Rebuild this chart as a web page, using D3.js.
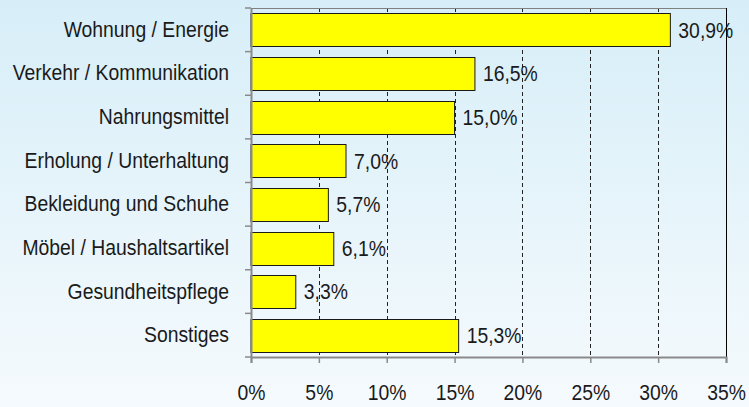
<!DOCTYPE html>
<html>
<head>
<meta charset="utf-8">
<script src="https://cdn.jsdelivr.net/npm/d3@7"></script>
<style>
  html, body { margin: 0; padding: 0; }
  body { width: 749px; height: 407px; overflow: hidden; }
  text { font-family: "Liberation Sans", Arial, sans-serif; fill: #1a1a1a; }
</style>
</head>
<body>
<div id="chart"></div>
<script>
// Data
const categories = [
  "Wohnung / Energie",
  "Verkehr / Kommunikation",
  "Nahrungsmittel",
  "Erholung / Unterhaltung",
  "Bekleidung und Schuhe",
  "Möbel / Haushaltsartikel",
  "Gesundheitspflege",
  "Sonstiges"
];
const shares = [30.9, 16.5, 15.0, 7.0, 5.7, 6.1, 3.3, 15.3];
const xTicks = [0, 5, 10, 15, 20, 25, 30, 35];

const data = categories.map((c, i) => ({ category: c, value: shares[i] }));

const width = 749, height = 407;
const margins = {top: 8, right: 23, bottom: 50, left: 251};
const fontSize = "22px";
const narrow = 0.88; // squeeze Liberation Sans to look like Arial Narrow

// move x/y into a transform so the text can be squeezed horizontally
function condense(sel) {
  sel.each(function() {
    const t = d3.select(this);
    const x = +t.attr("x") || 0, y = +t.attr("y") || 0;
    t.attr("transform", `translate(${x},${y}) scale(${narrow},1)`)
      .attr("x", 0)
      .attr("y", 0);
  });
}

const svg = d3.select("#chart")
  .append("svg")
  .attr("width", width)
  .attr("height", height);

// background gradient
const grad = svg.append("defs").append("linearGradient")
  .attr("id", "bg")
  .attr("x1", 0).attr("y1", 0).attr("x2", 0).attr("y2", 1);
grad.append("stop").attr("offset", "0%").attr("stop-color", "#d7eef8");
grad.append("stop").attr("offset", "100%").attr("stop-color", "#f5fafd");

svg.append("rect")
  .attr("width", width)
  .attr("height", height)
  .attr("fill", "url(#bg)");

const xScale = d3.scaleLinear()
  .domain([0, 35])
  .range([margins.left, width - margins.right]);

const yScale = d3.scaleBand()
  .domain(categories)
  .range([margins.top, height - margins.bottom])
  .paddingInner(0.25)
  .paddingOuter(0.125);

const yBand = d3.scaleBand()
  .domain(categories)
  .range([margins.top, height - margins.bottom]);

// dashed gridlines
svg.append("g")
  .selectAll("line")
  .data(xTicks.filter(d => d > 0 && d < 35))
  .join("line")
    .attr("x1", d => Math.round(xScale(d)) + 0.5)
    .attr("x2", d => Math.round(xScale(d)) + 0.5)
    .attr("y1", margins.top)
    .attr("y2", height - margins.bottom)
    .attr("stroke", "#222")
    .attr("stroke-width", 1)
    .attr("stroke-dasharray", "4,3");

// frame: top (gray) and right (black)
svg.append("line")
  .attr("x1", margins.left).attr("x2", xScale(35))
  .attr("y1", margins.top + 0.5).attr("y2", margins.top + 0.5)
  .attr("stroke", "#808080");
svg.append("line")
  .attr("x1", xScale(35) + 0.5).attr("x2", xScale(35) + 0.5)
  .attr("y1", margins.top).attr("y2", height - margins.bottom)
  .attr("stroke", "#000");

// bars
svg.append("g")
  .selectAll("rect")
  .data(data)
  .join("rect")
    .attr("x", xScale(0))
    .attr("y", d => Math.round(yScale(d.category)) + 0.5)
    .attr("width", d => xScale(d.value) - xScale(0))
    .attr("height", Math.round(yScale.bandwidth()))
    .attr("fill", "#ffff00")
    .attr("stroke", "#1a1a1a")
    .attr("stroke-width", 1);

// value labels
svg.append("g")
  .selectAll("text")
  .data(data)
  .join("text")
    .attr("x", d => xScale(d.value) + 8)
    .attr("y", d => yScale(d.category) + yScale.bandwidth() / 2)
    .attr("dy", "0.36em")
    .style("font-size", fontSize)
    .text(d => d3.format(".1f")(d.value).replace(".", ",") + "%")
    .call(condense);

// y axis
const yAxis = d3.axisLeft(yBand).tickSize(0).tickPadding(22);
const yGroup = svg.append("g")
  .attr("transform", `translate(${margins.left},0)`)
  .call(yAxis);
yGroup.select(".domain").attr("stroke", "#8a8a8a").attr("stroke-width", 2);
yGroup.selectAll("text")
  .style("font-size", fontSize)
  .attr("fill", "#1a1a1a")
  .call(condense);

// band boundary ticks
svg.append("g")
  .selectAll("line")
  .data(categories.map(c => yBand(c)).concat([height - margins.bottom]))
  .join("line")
    .attr("x1", margins.left - 6)
    .attr("x2", margins.left)
    .attr("y1", d => d)
    .attr("y2", d => d)
    .attr("stroke", "#8a8a8a")
    .attr("stroke-width", 1.5);

// x axis
const xAxis = d3.axisBottom(xScale)
  .tickValues(xTicks)
  .tickSize(6)
  .tickPadding(21)
  .tickFormat(d => d + "%");
const xGroup = svg.append("g")
  .attr("transform", `translate(0,${height - margins.bottom})`)
  .call(xAxis);
xGroup.select(".domain").attr("stroke", "#8a8a8a").attr("stroke-width", 2);
xGroup.selectAll(".tick line").attr("stroke", "#8a8a8a").attr("stroke-width", 1.5);
xGroup.selectAll("text")
  .style("font-size", fontSize)
  .attr("fill", "#1a1a1a")
  .call(condense);
</script>
</body>
</html>
